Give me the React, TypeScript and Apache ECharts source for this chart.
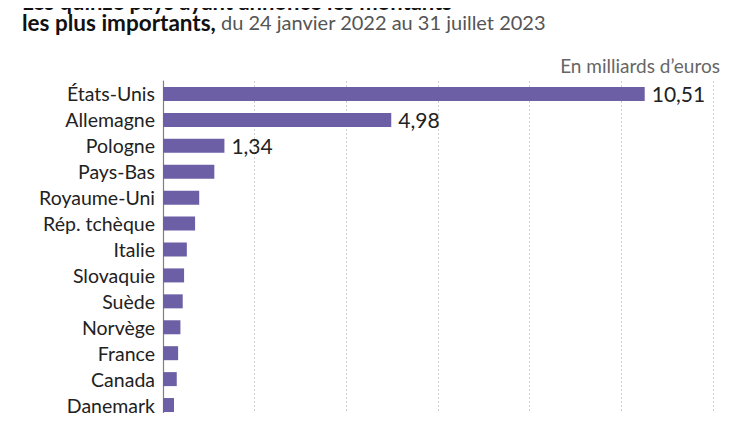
import React, { useEffect, useRef } from "react";
import * as echarts from "echarts";

const countries = [
  "États-Unis",
  "Allemagne",
  "Pologne",
  "Pays-Bas",
  "Royaume-Uni",
  "Rép. tchèque",
  "Italie",
  "Slovaquie",
  "Suède",
  "Norvège",
  "France",
  "Canada",
  "Danemark",
];
const amounts = [10.51, 4.98, 1.34, 1.12, 0.79, 0.7, 0.52, 0.46, 0.43, 0.38, 0.33, 0.3, 0.24];
const labelledCount = 3;
const titleLine1 = "Les quinze pays ayant annoncé les montants";
const titleLine2Bold = "les plus importants,";
const titleLine2Rest = " du 24 janvier 2022 au 31 juillet 2023";
const unitLabel = "En milliards d’euros";

const FONT = "Lato, 'Noto Sans', sans-serif";

export default function App() {
  const ref = useRef<HTMLDivElement>(null);
  useEffect(() => {
    if (!ref.current) return;
    const chart = echarts.init(ref.current, null, { renderer: "svg" });
    chart.setOption({
      animation: false,
      backgroundColor: "#ffffff",
      textStyle: { fontFamily: FONT },
      graphic: [
        {
          type: "text",
          x: 22,
          y: 1,
          style: {
            text: titleLine1,
            font: `bold 22px ${FONT}`,
            fill: "#111",
            verticalAlign: "middle",
          },
        },
        {
          type: "text",
          x: 22,
          y: 22,
          style: {
            text: `{b|${titleLine2Bold}}{n|${titleLine2Rest}}`,
            verticalAlign: "middle",
            rich: {
              b: { font: `bold 22.5px ${FONT}`, fill: "#111" },
              n: { font: `20px ${FONT}`, fill: "#555" },
            },
          },
        },
        {
          type: "text",
          x: 720,
          y: 65,
          style: {
            text: unitLabel,
            font: `19px ${FONT}`,
            fill: "#666",
            align: "right",
            verticalAlign: "middle",
          },
        },
      ],
      grid: { left: 163, right: 36, top: 81, bottom: 3, containLabel: false },
      xAxis: {
        type: "value",
        min: 0,
        max: 12,
        interval: 2,
        axisLine: { show: false },
        axisTick: { show: false },
        axisLabel: { show: false },
        splitLine: { show: true, lineStyle: { color: "#cfcfcf", type: [2, 2], width: 1 } },
      },
      yAxis: {
        type: "category",
        inverse: true,
        data: countries,
        axisLine: { show: true, lineStyle: { color: "#808080", width: 1.2 } },
        axisTick: { show: false },
        axisLabel: { color: "#222", fontSize: 19.5, fontFamily: FONT, margin: 8, interval: 0 },
      },
      series: [
        {
          type: "bar",
          barWidth: 14,
          itemStyle: { color: "#6c5fa6" },
          data: amounts.map((v, i) => ({
            value: v,
            label: {
              show: i < labelledCount,
              position: "right",
              distance: 7,
              color: "#222",
              fontSize: 21,
              fontFamily: FONT,
              formatter: (p: any) => String(p.value).replace(".", ","),
            },
          })),
        },
      ],
    });
    return () => chart.dispose();
  }, []);
  return <div ref={ref} style={{ width: 749, height: 421, margin: -8 }} />;
}
